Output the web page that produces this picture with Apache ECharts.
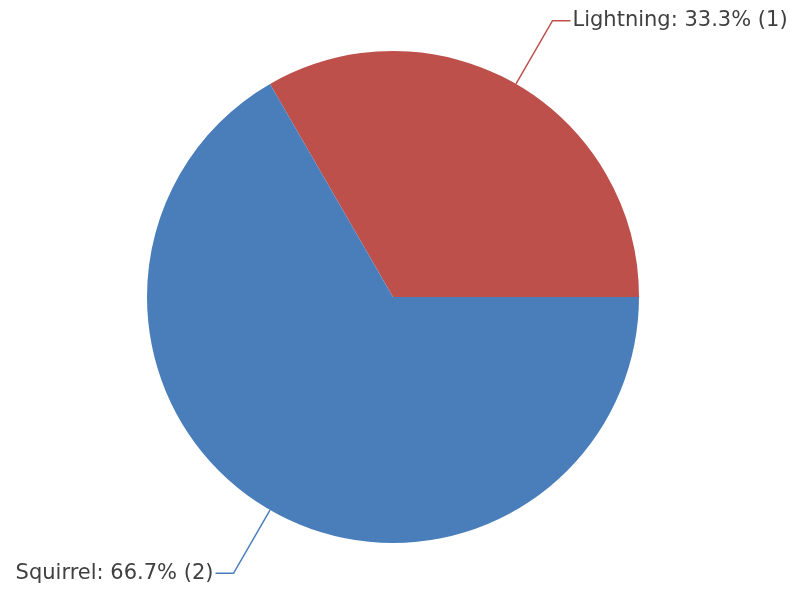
<!DOCTYPE html>
<html><head><meta charset="utf-8">
<script src="https://cdn.jsdelivr.net/npm/echarts@6/dist/echarts.min.js"></script>
<style>html,body{margin:0;padding:0;background:#fff}#c{width:795px;height:592px}</style>
</head><body><div id="c"></div>
<script>
const categories = ['Lightning', 'Squirrel'];
const values = [1, 2];
const colors = ['#be504c', '#4a7ebb'];
const chart = echarts.init(document.getElementById('c'));
chart.setOption({
  animation: false,
  series: [{
    type: 'pie',
    center: [393, 297],
    radius: 246,
    startAngle: 120,
    clockwise: true,
    data: categories.map((n, i) => ({ name: n, value: values[i], itemStyle: { color: colors[i] } })),
    label: {
      formatter: p => p.name + ': ' + p.percent.toFixed(1) + '% (' + p.value + ')',
      fontFamily: 'DejaVu Sans',
      fontSize: 21,
      color: '#404040',
      overflow: 'none',
      distanceToLabelLine: 2
    },
    labelLine: { length: 73, length2: 18, lineStyle: { width: 1.5 } },
    emphasis: { disabled: true }
  }]
});
</script></body></html>
